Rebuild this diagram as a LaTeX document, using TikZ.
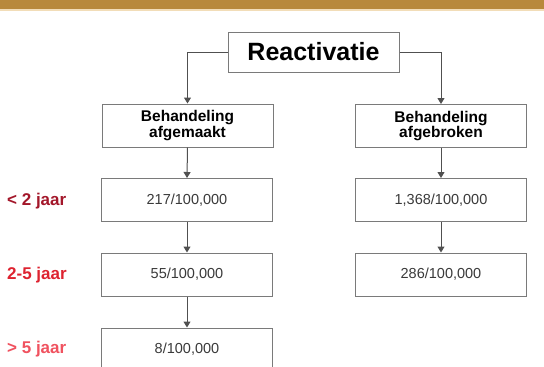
\documentclass[tikz,border=0pt]{standalone}
\usepackage{fontspec}
\setmainfont{Liberation Sans}
\usetikzlibrary{arrows.meta}
\definecolor{bargold}{HTML}{B8893C}
\definecolor{barlight}{HTML}{F2DDB8}
\definecolor{boxline}{HTML}{7A7A7A}
\definecolor{conn}{HTML}{505050}
\definecolor{numtxt}{HTML}{3A3A3A}
\definecolor{labA}{HTML}{A3172A}
\definecolor{labB}{HTML}{DE2330}
\definecolor{labC}{HTML}{F0525F}
\tikzset{
  box/.style={draw=boxline, line width=1pt, fill=white, minimum width=171pt, minimum height=43pt, inner sep=0pt, align=center},
  numbox/.style={box, font=\fontsize{14.5}{16}\selectfont, text=numtxt},
  headbox/.style={box, font=\bfseries\fontsize{15.5}{14.5}\selectfont},
  yearlab/.style={anchor=west, inner sep=0pt, font=\bfseries\fontsize{17}{19}\selectfont},
  conn/.style={draw=conn, line width=1pt, -{Triangle[length=6pt,width=7pt]}}
}
\begin{document}
\begin{tikzpicture}[x=1pt,y=-1pt]
\useasboundingbox (0,0) rectangle (544,367);
\clip (0,0) rectangle (544,367);
\fill[white] (0,0) rectangle (544,367);
\fill[bargold] (0,0) rectangle (544,9);
\fill[barlight] (0,9) rectangle (544,10.5);

\node[box, minimum width=171pt, minimum height=40pt, font=\bfseries\fontsize{25}{27}\selectfont] (react) at (313.5,52) {Reactivatie};

\node[headbox] (ba) at (187.5,125.5) {Behandeling\\afgemaakt};
\node[headbox] (bb) at (441,126) {Behandeling\\afgebroken};

\node[numbox] (l1) at (187,200) {217/100,000};
\node[numbox] (l2) at (187,274.5) {55/100,000};
\node[numbox] (l3) at (187,349.5) {8/100,000};

\node[numbox] (r1) at (441,200) {1,368/100,000};
\node[numbox] (r2) at (441,274.5) {286/100,000};

\node[yearlab, text=labA] (y1) at (7,201) {< 2 jaar};
\node[yearlab, text=labB] (y2) at (7,275.5) {2-5 jaar};
\node[yearlab, text=labC] (y3) at (7,349.5) {> 5 jaar};

\draw[conn] (react.west) -| (ba.north);
\draw[conn] (react.east) -| (bb.north);
\draw[conn] (ba.south) -- (l1.north);
\draw[conn] (l1.south) -- (l2.north);
\draw[conn] (l2.south) -- (l3.north);
\draw[conn] (bb.south) -- (r1.north);
\draw[conn] (r1.south) -- (r2.north);
\end{tikzpicture}
\end{document}
